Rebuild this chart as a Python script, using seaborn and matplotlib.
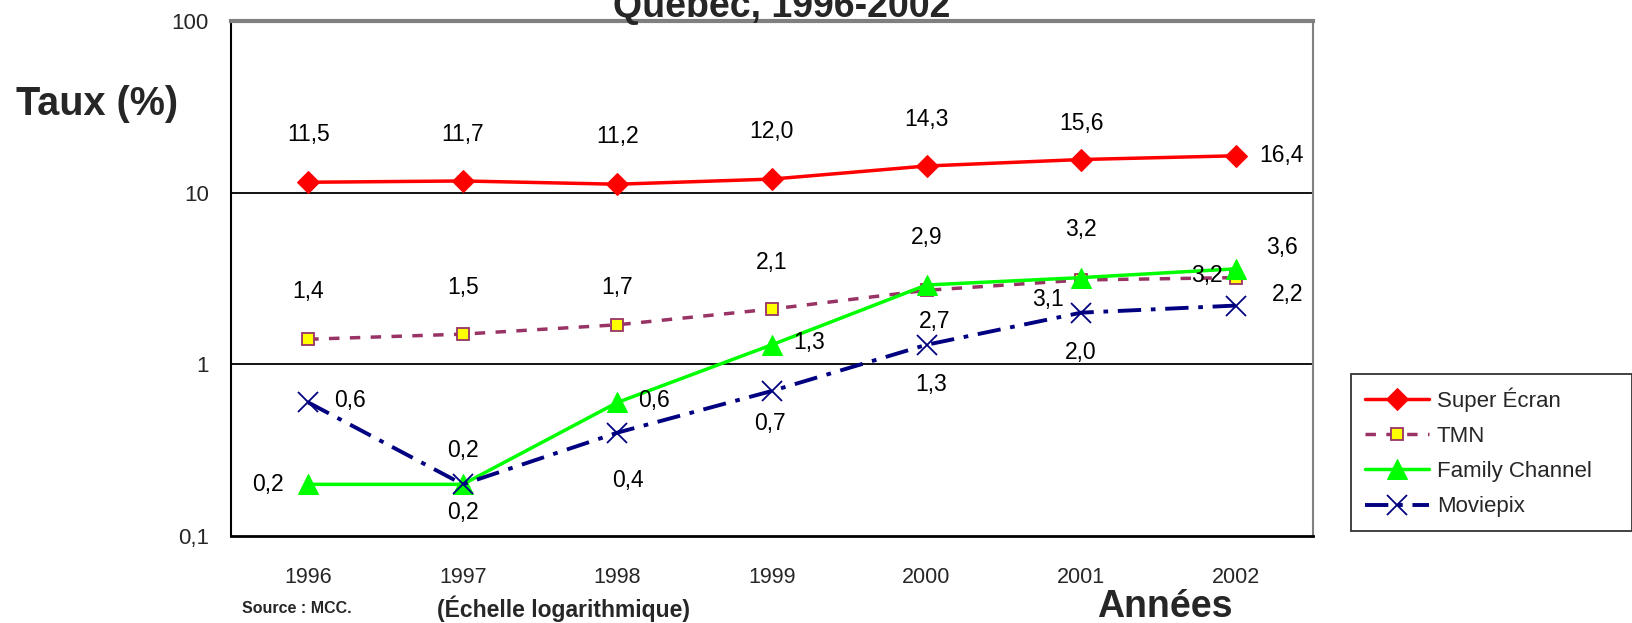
import numpy as np
import pandas as pd
import matplotlib
matplotlib.use('Agg')
import seaborn as sns
import matplotlib.pyplot as plt
from matplotlib.ticker import FixedLocator, NullFormatter

sns.set_style("white")
plt.rcParams['font.family'] = ['Liberation Sans', 'DejaVu Sans']

years = [1996, 1997, 1998, 1999, 2000, 2001, 2002]
super_ecran = [11.5, 11.7, 11.2, 12.0, 14.3, 15.6, 16.4]
tmn = [1.4, 1.5, 1.7, 2.1, 2.7, 3.1, 3.2]
family = [0.2, 0.2, 0.6, 1.3, 2.9, 3.2, 3.6]
moviepix = [0.6, 0.2, 0.4, 0.7, 1.3, 2.0, 2.2]
yticks = [0.1, 1, 10, 100]
ytick_labels = ["0,1", "1", "10", "100"]

# label offsets (pixels) for the value annotations
off_super = [(0, 48), (0, 46), (0, 48), (0, 48), (0, 47), (0, 36), (46, 0)]
off_tmn = [(0, 48), (0, 47), (0, 37), (0, 47), (8, -31), (-33, -20), (-29, 2)]
off_family = [(-40, 0), (0, -28), (37, 2), (37, 2), (0, 47), (0, 48), (46, 21)]
off_movie = [(42, 2), (0, 34), (11, -48), (-2, -33), (5, -40), (0, -40), (52, 11)]

fig = plt.figure(figsize=(16.32, 6.23), dpi=100)
ax = fig.add_axes([0.1415, 0.1396, 0.663, 0.8267])

sns.lineplot(x=years, y=super_ecran, ax=ax, color="#FF0000", lw=2.5,
             marker="D", markersize=11, markeredgecolor="#FF0000", label="Super Écran")
sns.lineplot(x=years, y=tmn, ax=ax, color="#993366", lw=2.5, linestyle=(0, (3, 3)),
             marker="s", markersize=8, markerfacecolor="#FFFF00",
             markeredgecolor="#993366", markeredgewidth=1.3, label="TMN")
sns.lineplot(x=years, y=family, ax=ax, color="#00FF00", lw=2.5,
             marker="^", markersize=15, markeredgecolor="#00FF00", label="Family Channel")
sns.lineplot(x=years, y=moviepix, ax=ax, color="#000080", lw=2.8,
             linestyle=(0, (6, 2.5, 1.2, 2.5)), marker="x", markersize=15,
             markeredgewidth=1.3, markeredgecolor="#000080", label="Moviepix")

def fmt(v):
    return f"{v:.1f}".replace(".", ",")

for series, offs in [(super_ecran, off_super), (tmn, off_tmn),
                     (family, off_family), (moviepix, off_movie)]:
    for x, v, (dx, dy) in zip(years, series, offs):
        ax.annotate(fmt(v), (x, v), xytext=(dx, dy), textcoords="offset pixels",
                    ha="center", va="center", fontsize=16.5, color="black")

ax.set_yscale("log")
ax.set_ylim(0.1, 100)
ax.set_xlim(1995.5, 2002.5)
ax.yaxis.set_major_locator(FixedLocator(yticks))
ax.set_yticklabels(ytick_labels, fontsize=16)
ax.yaxis.set_minor_locator(FixedLocator([]))
ax.set_xticks(years)
ax.set_xticklabels([str(y) for y in years], fontsize=15.5)
ax.xaxis.set_minor_locator(FixedLocator([y + 0.5 for y in [1995] + years]))
ax.xaxis.set_minor_formatter(NullFormatter())
ax.tick_params(axis="x", which="major", length=0, pad=22)
ax.tick_params(axis="x", which="minor", length=9, width=1.3, color="black", direction="out")
ax.tick_params(axis="y", which="major", length=7, width=1.3, color="black", direction="out", pad=9)
for g in [1, 10]:
    ax.axhline(g, color="black", lw=1.3, zorder=0)

ax.spines["left"].set_color("black")
ax.spines["left"].set_linewidth(1.5)
ax.spines["bottom"].set_color("black")
ax.spines["bottom"].set_linewidth(2)
ax.spines["top"].set_color("#808080")
ax.spines["top"].set_linewidth(3)
ax.spines["right"].set_color("#808080")
ax.spines["right"].set_linewidth(1.5)
ax.set_xlabel("")
ax.set_ylabel("")

handles, labels = ax.get_legend_handles_labels()
ax.get_legend().remove()
leg = fig.legend(handles, labels, loc="lower left", bbox_to_anchor=(0.828, 0.148, 0.172, 0.26),
                 mode="expand", frameon=True, fancybox=False, fontsize=16,
                 handlelength=2.9, borderpad=0.6, labelspacing=0.64, handletextpad=0.35,
                 borderaxespad=0)
leg.get_frame().set_edgecolor("black")
leg.get_frame().set_linewidth(1.3)

fig.text(0.479, 0.973, "Québec, 1996-2002", ha="center", va="baseline",
         fontsize=27, fontweight="bold")
fig.text(0.0098, 0.833, "Taux (%)", ha="left", va="center", fontsize=28.5, fontweight="bold")
fig.text(0.714, 0.026, "Années", ha="center", va="center", fontsize=27, fontweight="bold")
fig.text(0.148, 0.023, "Source : MCC.", ha="left", va="center", fontsize=11.5, fontweight="bold")
fig.text(0.268, 0.023, "(Échelle logarithmique)", ha="left", va="center", fontsize=16.5,
         fontweight="bold")

fig.savefig("out.png", dpi=100)
